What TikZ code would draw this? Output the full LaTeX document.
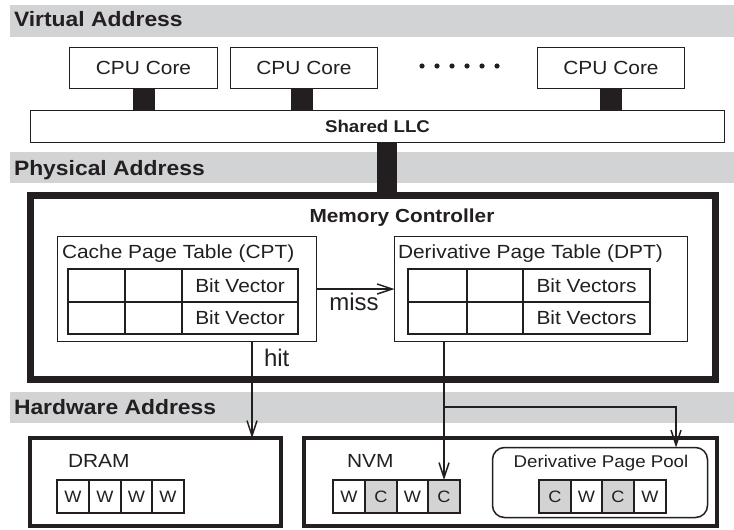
\documentclass[tikz,border=0pt]{standalone}
\usepackage{fontspec}
\setmainfont{Liberation Sans}[FakeStretch=1.1]
\newfontfamily\flowfont{Liberation Sans}
\usetikzlibrary{arrows.meta}
\definecolor{ink}{RGB}{35,31,32}
\definecolor{band}{RGB}{209,211,212}
\definecolor{cellgray}{RGB}{211,211,211}
\newcommand\txtreg{\fontsize{19}{22}\selectfont}
\newcommand\txtsmall{\fontsize{17}{20}\selectfont}
\newcommand\txtcellw{\fontsize{16.5}{19}\selectfont}
\newcommand\txtflow{\flowfont\fontsize{24}{27}\selectfont}
\newcommand\txtband{\fontsize{20.8}{24}\selectfont\bfseries}
\newcommand\txtmc{\fontsize{18.9}{22}\selectfont\bfseries}
\newcommand\txtllc{\fontsize{17}{20}\selectfont\bfseries}

\begin{document}
\begin{tikzpicture}[x=1pt,y=-1pt,
  every node/.style={inner sep=0pt, outer sep=0pt, text=ink},
  thinbox/.style={draw=ink, line width=1.5pt, fill=white},
  thickbox/.style={draw=ink, line width=4pt},
  mcbox/.style={draw=ink, line width=7pt},
  tcell/.style={draw=ink, line width=2pt, font=\txtreg},
  wcell/.style={draw=ink, line width=2pt, fill=white, minimum width=32pt, minimum height=33pt, font=\txtcellw},
  ccell/.style={wcell, fill=cellgray},
  bandlabel/.style={anchor=base west, font=\txtband},
  bus/.style={draw=ink, line cap=butt},
  flow/.style={draw=ink, line width=1.5pt, -{Straight Barb[length=15pt,width=10pt,line width=1.5pt]}},
]
\useasboundingbox (0,0) rectangle (734,530);

% address-space bands
\fill[band] (10,5) rectangle (734,37);
\fill[band] (10,152) rectangle (734,183);
\fill[band] (10,392) rectangle (734,423);
\node[bandlabel] (va) at (14,27) {Virtual Address};
\node[bandlabel] (pa) at (14,175) {Physical Address};
\node[bandlabel] (ha) at (14,414) {Hardware Address};

% cores and shared cache
\node[thinbox, minimum width=148pt, minimum height=41pt, font=\txtreg] (cpu1) at (143.5,68) {CPU Core};
\node[thinbox, minimum width=147pt, minimum height=41pt, font=\txtreg] (cpu2) at (304,68) {CPU Core};
\node[thinbox, minimum width=147pt, minimum height=41pt, font=\txtreg] (cpu3) at (611,68) {CPU Core};
\foreach \k in {0,...,5}
  \fill[ink] (422+15*\k,66) circle (2.6pt);
\node[thinbox, minimum width=694pt, minimum height=32pt, font=\txtllc] (llc) at (377.5,126.5) {Shared LLC};

\draw[bus, line width=22pt] (cpu1.south) -- (cpu1.south |- llc.north);
\draw[bus, line width=22pt] ([xshift=-2pt]cpu2.south) -- ([xshift=-2pt]cpu2.south |- llc.north);
\draw[bus, line width=22pt] (cpu3.south) -- (cpu3.south |- llc.north);

% memory controller
\node[mcbox, minimum width=685pt, minimum height=184pt] (mc) at (373,287.5) {};
\draw[bus, line width=20pt] ([xshift=9.5pt]llc.south) -- ([xshift=9.5pt]llc.south |- mc.north);
\node[anchor=base, font=\txtmc] (mclabel) at (402,222) {Memory Controller};

% cache page table
\node[thinbox, minimum width=259pt, minimum height=105pt] (cpt) at (187,289) {};
\node[anchor=base west, font=\txtreg] (cpttitle) at (62,258) {Cache Page Table (CPT)};
\foreach \r/\y in {1/285.5, 2/318} {
  \node[tcell, minimum width=57pt, minimum height=32.5pt] (cpt\r a) at (96.5,\y) {};
  \node[tcell, minimum width=57pt, minimum height=32.5pt] (cpt\r b) at (153.5,\y) {};
  \node[tcell, minimum width=116pt, minimum height=32.5pt] (cpt\r c) at (240,\y) {Bit Vector};
}

% derivative page table
\node[thinbox, minimum width=293pt, minimum height=105pt] (dpt) at (541,289) {};
\node[anchor=base west, font=\txtreg] (dpttitle) at (398,258) {Derivative Page Table (DPT)};
\foreach \r/\y in {1/285.5, 2/318} {
  \node[tcell, minimum width=59pt, minimum height=32.5pt] (dpt\r a) at (437.5,\y) {};
  \node[tcell, minimum width=56pt, minimum height=32.5pt] (dpt\r b) at (495,\y) {};
  \node[tcell, minimum width=127pt, minimum height=32.5pt] (dpt\r c) at (586.5,\y) {Bit Vectors};
}

% memories
\node[thickbox, minimum width=251pt, minimum height=88pt] (dram) at (155.5,482) {};
\node[anchor=base west, font=\txtreg] (dramlabel) at (68,467) {DRAM};
\node[wcell] (d1) at (73,496.5) {W};
\node[wcell] (d2) at (105,496.5) {W};
\node[wcell] (d3) at (136.5,496.5) {W};
\node[wcell] (d4) at (168,496.5) {W};

\node[thickbox, minimum width=413pt, minimum height=88pt] (nvm) at (510.5,482) {};
\node[anchor=base west, font=\txtreg] (nvmlabel) at (347,467) {NVM};
\node[wcell] (n1) at (349,496.5) {W};
\node[ccell] (n2) at (381,496.5) {C};
\node[wcell] (n3) at (412.5,496.5) {W};
\node[ccell] (n4) at (444,496.5) {C};

\node[thinbox, rounded corners=12pt, minimum width=215pt, minimum height=70pt] (pool) at (600,482.5) {};
\node[anchor=base, font=\txtsmall] (poollabel) at (601,467) {Derivative Page Pool};
\node[ccell] (p1) at (555,496.5) {C};
\node[wcell] (p2) at (586.5,496.5) {W};
\node[ccell] (p3) at (618,496.5) {C};
\node[wcell] (p4) at (650,496.5) {W};

% lookups
\draw[flow] (cpt.east) -- (dpt.west);
\node[anchor=base, font=\txtflow] (misslabel) at (354,310) {miss};
\draw[flow] ([xshift=65pt]cpt.south) -- ([xshift=65pt]cpt.south |- dram.north);
\node[anchor=base west, font=\txtflow] (hitlabel) at (264,366) {hit};
\coordinate (split) at (444,407);
\draw[flow] (dpt.south -| n4.north) -- (n4.north);
\draw[flow] (split) -| ([xshift=76pt]pool.north);
\end{tikzpicture}
\end{document}
